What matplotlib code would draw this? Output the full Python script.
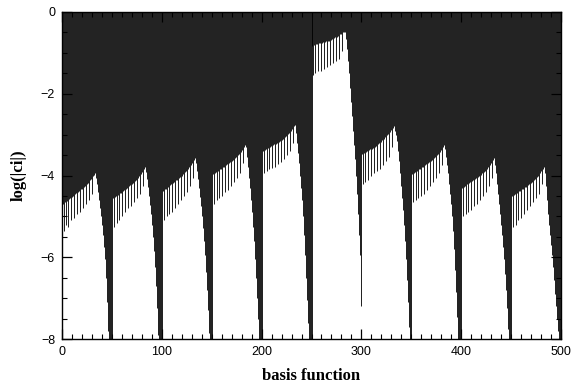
import numpy as np
import matplotlib
matplotlib.use("Agg")
import matplotlib.pyplot as plt
from matplotlib.ticker import MultipleLocator

# log10(|c_i|) for basis functions 1..500, in 10 blocks of 50
seg0 = [-4.70, -5.35, -4.66, -5.20, -4.62, -5.25, -4.58, -4.56, -5.10, -4.52,
        -4.50, -5.05, -4.46, -4.44, -4.95, -4.40, -4.38, -4.90, -4.34, -4.32,
        -4.80, -4.28, -4.26, -4.70, -4.22, -4.18, -4.60, -4.12, -4.08, -4.45,
        -4.02, -3.98, -3.94, -4.05, -4.20, -4.40, -4.60, -4.80, -5.00, -5.20,
        -5.45, -5.75, -6.05, -6.50, -7.10, -7.80, -8.60, -9.20, -9.60, -9.90]
seg1 = [-4.55, -5.25, -4.52, -4.50, -5.15, -4.47, -5.10, -4.44, -4.42, -5.00,
        -4.38, -4.36, -4.90, -4.32, -4.30, -4.80, -4.26, -4.24, -4.75, -4.20,
        -4.18, -4.65, -4.14, -4.11, -4.55, -4.05, -4.02, -4.45, -3.96, -3.92,
        -4.25, -3.85, -3.80, -3.92, -4.08, -4.28, -4.50, -4.72, -4.95, -5.20,
        -5.50, -5.85, -6.25, -6.70, -7.25, -7.90, -8.60, -9.20, -9.60, -9.90]
seg2 = [-4.38, -5.10, -4.34, -4.32, -5.00, -4.28, -4.95, -4.24, -4.22, -4.90,
        -4.18, -4.16, -4.80, -4.12, -4.10, -4.70, -4.06, -4.04, -4.60, -4.00,
        -3.97, -4.50, -3.92, -3.89, -4.40, -3.83, -3.80, -4.25, -3.74, -3.70,
        -4.05, -3.62, -3.57, -3.70, -3.88, -4.08, -4.30, -4.52, -4.75, -5.00,
        -5.28, -5.60, -5.95, -6.35, -6.80, -7.30, -7.85, -8.50, -9.20, -9.80]
seg3 = [-3.96, -4.70, -3.93, -3.91, -4.60, -3.88, -4.55, -3.85, -3.83, -4.50,
        -3.80, -3.78, -4.40, -3.75, -3.73, -4.35, -3.70, -3.68, -4.25, -3.65,
        -3.62, -4.15, -3.58, -3.55, -4.05, -3.50, -3.47, -3.95, -3.42, -3.38,
        -3.70, -3.30, -3.26, -3.30, -3.55, -3.80, -4.05, -4.30, -4.60, -4.90,
        -5.25, -5.60, -6.05, -6.50, -7.00, -7.50, -8.10, -8.70, -9.30, -9.80]
seg4 = [-3.40, -3.95, -3.37, -3.35, -3.90, -3.33, -3.85, -3.30, -3.28, -3.82,
        -3.26, -3.24, -3.78, -3.22, -3.20, -3.72, -3.18, -3.16, -3.68, -3.13,
        -3.10, -3.60, -3.06, -3.03, -3.50, -2.98, -2.95, -3.40, -2.90, -2.86,
        -3.20, -2.80, -2.76, -2.95, -3.20, -3.45, -3.70, -4.00, -4.30, -4.60,
        -5.00, -5.45, -5.95, -6.50, -7.05, -7.60, -8.20, -8.80, -9.40, -9.90]
seg5 = [-0.82, -1.55, -0.80, -1.50, -0.79, -0.78, -1.45, -0.77, -0.76, -1.45,
        -0.75, -0.74, -1.40, -0.73, -0.72, -1.35, -0.71, -0.70, -1.30, -0.68,
        -0.66, -1.25, -0.64, -0.62, -1.20, -0.60, -0.58, -1.15, -0.55, -0.53,
        -0.95, -0.50, -0.48, -0.50, -0.65, -0.90, -1.20, -1.50, -1.85, -2.20,
        -2.55, -2.90, -3.25, -3.60, -4.00, -4.45, -4.95, -5.45, -5.95, -7.20]
seg6 = [-3.48, -4.20, -3.45, -4.15, -3.42, -3.40, -4.10, -3.38, -3.36, -4.00,
        -3.34, -3.32, -3.95, -3.30, -3.27, -3.90, -3.24, -3.21, -3.85, -3.17,
        -3.14, -3.75, -3.10, -3.06, -3.65, -3.02, -2.98, -3.55, -2.93, -2.89,
        -3.30, -2.83, -2.79, -2.90, -3.00, -3.15, -3.40, -3.65, -3.95, -4.25,
        -4.55, -4.85, -5.20, -5.60, -6.05, -6.55, -7.10, -7.70, -8.40, -9.20]
seg7 = [-3.96, -4.65, -3.93, -3.91, -4.60, -3.88, -4.55, -3.85, -3.83, -4.50,
        -3.80, -3.78, -4.45, -3.75, -3.73, -4.35, -3.70, -3.68, -4.25, -3.65,
        -3.62, -4.15, -3.58, -3.55, -4.05, -3.50, -3.47, -3.95, -3.42, -3.38,
        -3.75, -3.30, -3.25, -3.35, -3.55, -3.75, -3.95, -4.20, -4.45, -4.70,
        -5.00, -5.35, -5.80, -6.30, -6.85, -7.45, -8.10, -8.70, -9.30, -9.80]
seg8 = [-4.30, -5.00, -4.27, -4.25, -4.95, -4.22, -4.90, -4.19, -4.17, -4.85,
        -4.14, -4.12, -4.75, -4.09, -4.07, -4.70, -4.04, -4.02, -4.60, -3.98,
        -3.95, -4.50, -3.91, -3.88, -4.40, -3.83, -3.80, -4.25, -3.74, -3.70,
        -4.05, -3.62, -3.58, -3.75, -3.95, -4.20, -4.45, -4.70, -4.95, -5.20,
        -5.45, -5.75, -6.05, -6.40, -6.80, -7.25, -7.75, -8.30, -9.00, -9.70]
seg9 = [-4.50, -5.25, -4.47, -4.45, -5.20, -4.42, -5.10, -4.39, -4.37, -5.05,
        -4.34, -4.32, -4.95, -4.29, -4.27, -4.85, -4.24, -4.22, -4.75, -4.18,
        -4.15, -4.65, -4.11, -4.08, -4.55, -4.03, -4.00, -4.45, -3.94, -3.90,
        -4.20, -3.83, -3.78, -3.95, -4.25, -4.60, -4.95, -5.20, -5.45, -5.70,
        -5.95, -6.25, -6.55, -6.90, -7.20, -7.50, -7.80, -8.20, -8.80, -9.50]

log_c = np.array(seg0 + seg1 + seg2 + seg3 + seg4 + seg5 + seg6 + seg7 + seg8 + seg9)
basis = np.arange(1, len(log_c) + 1)

x_ticks = [0, 100, 200, 300, 400, 500]
y_ticks = [0, -2, -4, -6, -8]

W, H = 573, 385
fig = plt.figure(figsize=(W / 100, H / 100), dpi=100)
ax = fig.add_axes([62 / W, 1 - 339 / H, (561 - 62) / W, (339 - 12) / H])

ax.vlines(basis, log_c, 0, colors="black", linewidth=0.62)

ax.set_xlim(0, 500)
ax.set_ylim(-8, 0)
ax.set_xticks(x_ticks)
ax.set_yticks(y_ticks)
ax.xaxis.set_minor_locator(MultipleLocator(10))
ax.yaxis.set_minor_locator(MultipleLocator(0.5))
ax.tick_params(which="both", direction="in", top=True, right=True, colors="black")
ax.tick_params(which="major", length=7, width=0.9, pad=5)
ax.tick_params(which="minor", length=3.5, width=0.8)
for lab in ax.get_xticklabels() + ax.get_yticklabels():
    lab.set_fontfamily("Liberation Sans")
    lab.set_fontsize(9)
for sp in ax.spines.values():
    sp.set_linewidth(1.0)

ax.set_xlabel("basis function", fontfamily="Liberation Serif", fontweight="bold",
              fontsize=12, labelpad=7)
ax.set_ylabel("log(|ci|)", fontfamily="Liberation Serif", fontweight="bold",
              fontsize=12, labelpad=10)

fig.savefig("out.png", dpi=100)
